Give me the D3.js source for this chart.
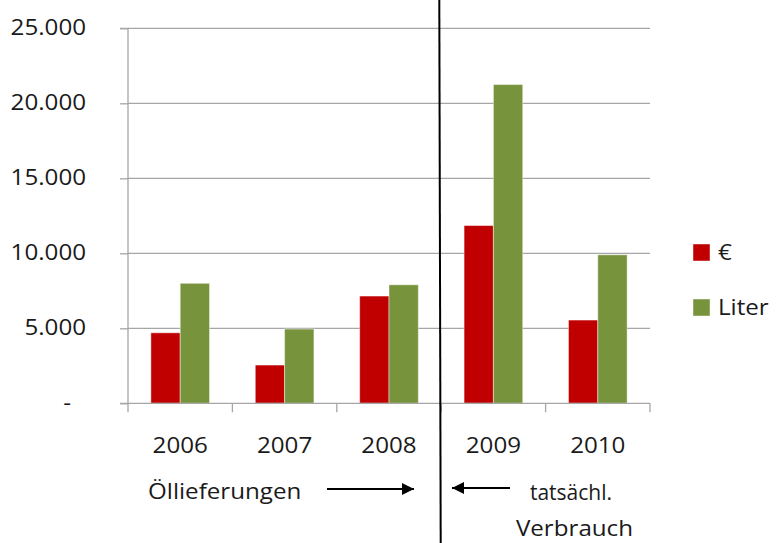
<!DOCTYPE html>
<html>
<head>
<meta charset="utf-8">
<script src="https://cdn.jsdelivr.net/npm/d3@7"></script>
<style>
  html, body { margin: 0; padding: 0; background: #fff; }
  svg { display: block; }
  text { font-family: "Open Sans", sans-serif; fill: #1a1a1a; }
</style>
</head>
<body>
<svg id="chart" width="783" height="543"></svg>
<script>
const categories = ["2006", "2007", "2008", "2009", "2010"];
const seriesNames = ["€", "Liter"];
const euroValues = [4700, 2550, 7150, 11850, 5550];
const literValues = [8000, 4950, 7900, 21250, 9900];
const yTicks = [0, 5000, 10000, 15000, 20000, 25000];
const colors = ["#c00000", "#77933c"];
const leftNote = "Öllieferungen";
const rightNote = ["tatsächl.", "Verbrauch"];

const svg = d3.select("#chart");
const W = 783, H = 543;
const plot = { left: 128, right: 650, top: 28.3, bottom: 403.3 };
const stretch = 1.15;

const x = d3.scaleBand().domain(categories).range([plot.left, plot.right]).padding(0);
const xs = d3.scaleBand().domain(seriesNames).range([0, x.bandwidth()]).paddingInner(0).paddingOuter(0.78);
const y = d3.scaleLinear().domain([0, 25000]).range([plot.bottom, plot.top]);

const de = d3.formatLocale({ decimal: ",", thousands: ".", grouping: [3], currency: ["", "€"] });
const fmt = v => v === 0 ? "-" : de.format(",")(v);

// gridlines
svg.append("g").selectAll("line").data(yTicks.filter(t => t > 0)).join("line")
  .attr("x1", plot.left).attr("x2", plot.right)
  .attr("y1", d => y(d)).attr("y2", d => y(d))
  .attr("stroke", "#a6a6a6").attr("stroke-width", 1.3);

// bars
const data = categories.map((c, i) => ({ c, vals: [euroValues[i], literValues[i]] }));
const groups = svg.append("g").selectAll("g").data(data).join("g")
  .attr("transform", d => `translate(${x(d.c)},0)`);
groups.selectAll("rect").data(d => d.vals.map((v, j) => ({ v, s: seriesNames[j], j }))).join("rect")
  .attr("x", d => xs(d.s)).attr("width", xs.bandwidth())
  .attr("y", d => y(d.v)).attr("height", d => y(0) - y(d.v))
  .attr("fill", d => colors[d.j])
  .attr("stroke", "rgba(255,255,255,0.45)").attr("stroke-width", 1);

// y axis
const yAxis = d3.axisLeft(y).tickValues(yTicks).tickFormat(fmt).tickSize(8).tickPadding(34);
const gy = svg.append("g").attr("transform", `translate(${plot.left},0)`).call(yAxis);
gy.select(".domain").attr("stroke", "#a6a6a6").attr("stroke-width", 1.3).attr("d", `M-8,${plot.top}H0V${plot.bottom}H-8`);
gy.selectAll(".tick line").attr("stroke", "#a6a6a6").attr("stroke-width", 1.3);
gy.selectAll(".tick text").attr("font-size", 21).attr("font-family", "Open Sans, sans-serif").attr("fill", "#1a1a1a").attr("dy", "0.3em")
  .attr("dx", d => d === 0 ? -15 : 0);

// x axis
const boundaries = categories.map(c => x(c)).concat([plot.right]);
const gx = svg.append("g");
gx.append("line").attr("x1", plot.left).attr("x2", plot.right).attr("y1", plot.bottom).attr("y2", plot.bottom)
  .attr("stroke", "#a6a6a6").attr("stroke-width", 1.3);
gx.selectAll("line.tk").data(boundaries).join("line").attr("class", "tk")
  .attr("x1", d => d).attr("x2", d => d).attr("y1", plot.bottom).attr("y2", plot.bottom + 9)
  .attr("stroke", "#a6a6a6").attr("stroke-width", 1.3);
gx.selectAll("text").data(categories).join("text")
  .attr("x", d => x(d) + x.bandwidth() / 2).attr("y", 453)
  .attr("text-anchor", "middle").attr("font-size", 21).text(d => d);

// divider
svg.append("line").attr("x1", 439.3).attr("x2", 440.7).attr("y1", 0).attr("y2", H)
  .attr("stroke", "#000").attr("stroke-width", 2);

// legend
const leg = svg.append("g").selectAll("g").data(seriesNames).join("g")
  .attr("transform", (d, i) => `translate(693,${244 + i * 55})`);
leg.append("rect").attr("width", 17).attr("height", 17).attr("fill", (d, i) => colors[i])
  .attr("stroke", "rgba(255,255,255,0.45)");
leg.append("text").attr("x", 25).attr("y", 16).attr("font-size", 21).text(d => d);

// annotations
const defs = svg.append("defs");
defs.append("marker").attr("id", "ah").attr("viewBox", "0 0 12 12").attr("refX", 12).attr("refY", 6)
  .attr("markerWidth", 12).attr("markerHeight", 12).attr("markerUnits", "userSpaceOnUse").attr("orient", "auto")
  .append("path").attr("d", "M0,0L12,6L0,12Z").attr("fill", "#000");

svg.append("text").attr("x", 148).attr("y", 499).attr("font-size", 21).text(leftNote);
svg.append("line").attr("x1", 327).attr("x2", 414).attr("y1", 489).attr("y2", 489)
  .attr("stroke", "#000").attr("stroke-width", 2).attr("marker-end", "url(#ah)");
svg.append("line").attr("x1", 510).attr("x2", 452).attr("y1", 488).attr("y2", 488)
  .attr("stroke", "#000").attr("stroke-width", 2).attr("marker-end", "url(#ah)");
svg.append("text").attr("class", "nostretch").attr("x", 612).attr("y", 500).attr("text-anchor", "end").attr("font-size", 21).text(rightNote[0]);
svg.append("text").attr("x", 633).attr("y", 536).attr("text-anchor", "end").attr("font-size", 21).text(rightNote[1]);

// horizontal stretch to mimic the original's wide rendering
svg.selectAll("text:not(.nostretch)").each(function () {
  const len = this.getComputedTextLength();
  if (len > 0) {
    d3.select(this).attr("textLength", len * stretch).attr("lengthAdjust", "spacingAndGlyphs");
  }
});
</script>
</body>
</html>
